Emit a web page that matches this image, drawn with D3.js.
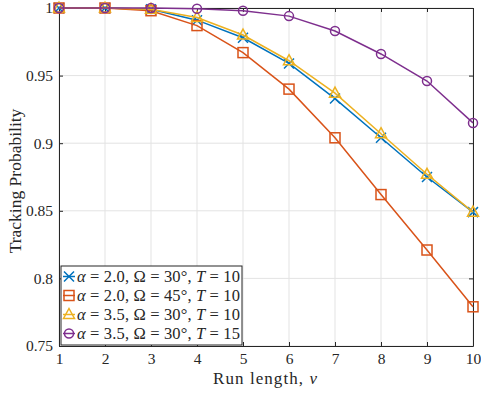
<!DOCTYPE html>
<meta charset="utf-8">
<style>
body { margin: 0; background: #fff; }
text { font-family: "Liberation Serif", "DejaVu Serif", serif; fill: #262626; }
</style>
<body>
<script src="https://d3js.org/d3.v7.min.js"></script>
<script>

var runLength = [1, 2, 3, 4, 5, 6, 7, 8, 9, 10];
var s1 = [1, 1, 0.999, 0.991, 0.978, 0.959, 0.933, 0.904, 0.875, 0.849];
var s2 = [1, 1, 0.998, 0.987, 0.967, 0.940, 0.904, 0.862, 0.821, 0.779];
var s3 = [1, 1, 0.999, 0.993, 0.980, 0.961, 0.937, 0.907, 0.877, 0.849];
var s4 = [1, 1, 1, 0.9995, 0.998, 0.994, 0.983, 0.966, 0.946, 0.915];
var yTicks = [0.75, 0.8, 0.85, 0.9, 0.95, 1];
var yTickLabels = ["0.75", "0.8", "0.85", "0.9", "0.95", "1"];

var series = [
    {vals: s1, color: "#0072BD", marker: "x", a: "2.0", o: "30", t: "10"},
    {vals: s2, color: "#D95319", marker: "square", a: "2.0", o: "45", t: "10"},
    {vals: s3, color: "#EDB120", marker: "triangle", a: "3.5", o: "30", t: "10"},
    {vals: s4, color: "#7E2F8E", marker: "circle", a: "3.5", o: "30", t: "15"}
];

var W = 481, H = 395;
var margin = {top: 8, right: 8, bottom: 49, left: 59},
    width = W - margin.left - margin.right,
    height = H - margin.top - margin.bottom;

var svg = d3.select("body").append("svg")
    .attr("width", W)
    .attr("height", H);

var g = svg.append("g")
    .attr("transform", "translate(" + margin.left + "," + margin.top + ")");

var x = d3.scaleLinear().domain([1, 10]).range([0, width]);
var y = d3.scaleLinear().domain([0.75, 1]).range([height, 0]);

// grid
g.selectAll(".gx").data(runLength).enter().append("line")
    .attr("x1", function(d) { return x(d); })
    .attr("x2", function(d) { return x(d); })
    .attr("y1", 0).attr("y2", height)
    .attr("stroke", "#e3e3e3").attr("stroke-width", 1);
g.selectAll(".gy").data(yTicks).enter().append("line")
    .attr("y1", function(d) { return y(d); })
    .attr("y2", function(d) { return y(d); })
    .attr("x1", 0).attr("x2", width)
    .attr("stroke", "#e3e3e3").attr("stroke-width", 1);

// axes
var xAxis = g.append("g")
    .attr("transform", "translate(0," + height + ")")
    .call(d3.axisBottom(x).tickValues(runLength).tickSizeInner(-4).tickSizeOuter(0).tickPadding(7));
var yAxis = g.append("g")
    .call(d3.axisLeft(y).tickValues(yTicks).tickFormat(function(d, i) { return yTickLabels[i]; })
        .tickSizeInner(-4).tickSizeOuter(0).tickPadding(6));
var xTop = g.append("g")
    .call(d3.axisTop(x).tickValues(runLength).tickSizeInner(-4).tickSizeOuter(0).tickFormat(""));
var yRight = g.append("g")
    .attr("transform", "translate(" + width + ",0)")
    .call(d3.axisRight(y).tickValues(yTicks).tickSizeInner(-4).tickSizeOuter(0).tickFormat(""));

[xAxis, yAxis, xTop, yRight].forEach(function(a) {
    a.attr("font-family", null).attr("font-size", null);
    a.select(".domain").attr("stroke", "#262626").attr("stroke-width", 1);
    a.selectAll(".tick line").attr("stroke", "#262626");
    a.selectAll("text").style("font-family", "Liberation Serif, serif")
        .style("font-size", "15.5px").attr("fill", "#262626");
});

// lines
var line = d3.line()
    .x(function(d, i) { return x(runLength[i]); })
    .y(function(d) { return y(d); });

function drawMarker(sel, type, color, cx, cy) {
    var m = sel.append("g").attr("transform", "translate(" + cx + "," + cy + ")");
    if (type === "x") {
        m.append("path").attr("d", "M-5,-5L5,5M-5,5L5,-5")
            .attr("stroke", color).attr("stroke-width", 1.5).attr("fill", "none");
    } else if (type === "square") {
        m.append("rect").attr("x", -5).attr("y", -5).attr("width", 10).attr("height", 10)
            .attr("stroke", color).attr("stroke-width", 1.5).attr("fill", "none");
    } else if (type === "triangle") {
        m.append("path").attr("d", "M0,-6L5.5,4L-5.5,4Z")
            .attr("stroke", color).attr("stroke-width", 1.5).attr("fill", "none");
    } else {
        m.append("circle").attr("r", 4.5)
            .attr("stroke", color).attr("stroke-width", 1.5).attr("fill", "none");
    }
}

series.forEach(function(s) {
    g.append("path").datum(s.vals)
        .attr("d", line)
        .attr("fill", "none")
        .attr("stroke", s.color)
        .attr("stroke-width", 1.5);
    s.vals.forEach(function(v, i) {
        drawMarker(g, s.marker, s.color, x(runLength[i]), y(v));
    });
});

// axis labels
svg.append("text")
    .attr("x", 265)
    .attr("y", 384)
    .attr("text-anchor", "middle")
    .attr("textLength", 104)
    .attr("lengthAdjust", "spacing")
    .style("font-size", "17px")
    .html("Run length, <tspan font-style='italic'>ν</tspan>");

svg.append("text")
    .attr("transform", "translate(21,181) rotate(-90)")
    .attr("text-anchor", "middle")
    .style("font-size", "17.5px")
    .text("Tracking Probability");

// legend
var lg = svg.append("g").attr("transform", "translate(61,266)");
lg.append("rect")
    .attr("width", 181).attr("height", 79)
    .attr("fill", "#fff").attr("stroke", "#262626").attr("stroke-width", 1);

series.forEach(function(s, i) {
    var ly = 10.5 + i * 19;
    lg.append("line")
        .attr("x1", 2).attr("x2", 14).attr("y1", ly).attr("y2", ly)
        .attr("stroke", s.color).attr("stroke-width", 1.5);
    drawMarker(lg, s.marker, s.color, 8, ly);
    lg.append("text")
        .attr("x", 16).attr("y", ly + 5)
        .attr("textLength", 163)
        .attr("lengthAdjust", "spacing")
        .style("font-size", "16.5px")
        .html("<tspan font-style='italic'>α</tspan> = " + s.a +
              ", Ω = " + s.o + "°, <tspan font-style='italic'>T</tspan> = " + s.t);
});

</script>
